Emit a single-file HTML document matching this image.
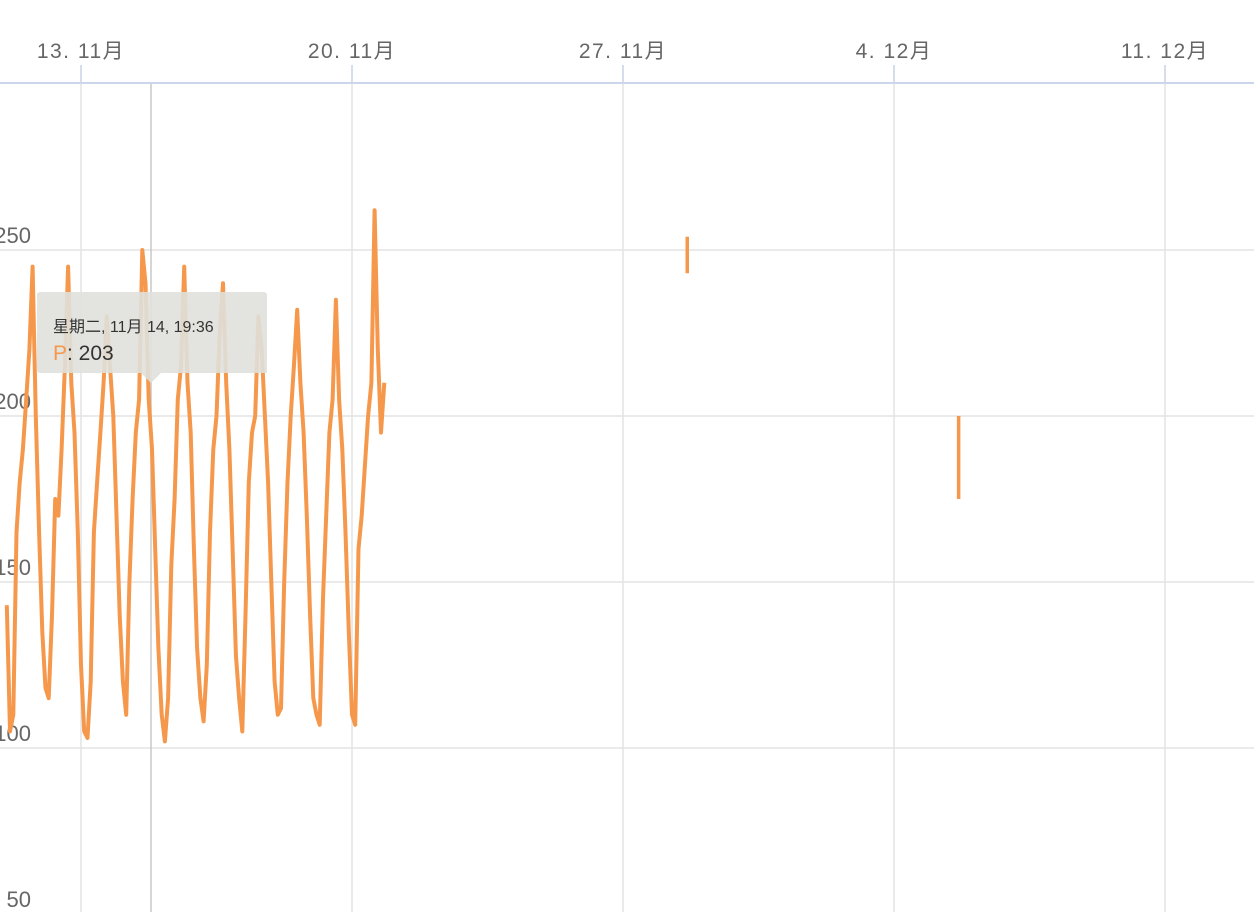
<!DOCTYPE html>
<html><head><meta charset="utf-8"><style>
html,body{margin:0;padding:0;background:#fff;width:1254px;height:912px;overflow:hidden}
svg text{font-family:"Liberation Sans","Noto Sans CJK SC",sans-serif}
</style></head><body>
<svg id="chart" width="1254" height="912" xmlns="http://www.w3.org/2000/svg">
<g id="grid"></g><g id="axes"></g><g id="series"></g><g id="tip"></g>
</svg>
<script>
const xTickLabels=["13. 11月","20. 11月","27. 11月","4. 12月","11. 12月"];
const xTickDays=[13,20,27,34,41];
const yTicks=[250,200,150,100,50];
const yTickLabels=["250","200","150","100","50"];
// values every 2h starting 11.11 02:00
const day11=[143,105,110,165,180,190,205,220,245,200,165,135];
const day12=[118,115,140,175,170,190,215,245,210,195,165,125];
const day13=[105,103,120,165,180,195,210,230,215,200,170,140];
const day14=[120,110,150,175,195,205,250,240,205,190,160,130];
const day15=[110,102,115,155,175,205,215,245,210,195,160,130];
const day16=[115,108,125,165,190,200,225,240,210,190,160,128];
const day17=[115,105,140,180,195,200,230,220,200,180,150,120];
const day18=[110,112,150,180,200,215,232,210,195,170,140,115];
const day19=[110,107,145,170,195,205,235,205,190,165,135,110];
const day20=[107,160,170,185,200,210,262,220,195,210];
const seg1Day=[28.66,28.66]; const seg1Val=[254,243];
const seg2Day=[35.67,35.67]; const seg2Val=[200,175];
const NS="http://www.w3.org/2000/svg";
function X(d){return 81+(d-13)*38.714;}
function Y(v){return 748-(v-100)*3.32;}
function mk(t,a,p){const e=document.createElementNS(NS,t);for(const k in a)e.setAttribute(k,a[k]);p.appendChild(e);return e;}
const grid=document.getElementById('grid'),axes=document.getElementById('axes'),ser=document.getElementById('series'),tip=document.getElementById('tip');
yTicks.forEach((v,i)=>{
 const l=mk('line',{x1:0,x2:1254,y1:Y(v),y2:Y(v),stroke:'#e3e3e3','stroke-width':1.5},grid);
 
 
 const t=mk('text',{x:31,y:Y(v)-7,'text-anchor':'end','font-size':22,fill:'#666'},axes);
 t.textContent=yTickLabels[i];
 
 
});
xTickDays.forEach((d,i)=>{
 const l=mk('line',{x1:X(d),x2:X(d),y1:65,y2:912,stroke:'#e3e3e3','stroke-width':1.5},grid);
 
 
 const tk=mk('line',{x1:X(d),x2:X(d),y1:65,y2:83,stroke:'#ccd6eb','stroke-width':1.5},axes);
 
 
 const t=mk('text',{x:X(d),y:58,'text-anchor':'middle','font-size':21,fill:'#666','letter-spacing':'1.5'},axes);
 t.textContent=xTickLabels[i];
 
 
});
const ax=mk('line',{x1:0,x2:1254,y1:83,y2:83,stroke:'#ccd6eb','stroke-width':2},axes);


const ch=mk('line',{x1:151,x2:151,y1:83,y2:912,stroke:'#c8c8c8','stroke-width':1.5},grid);


const vals=[].concat(day11,day12,day13,day14,day15,day16,day17,day18,day19,day20);
let d='';vals.forEach((v,i)=>{d+=(i?'L':'M')+X(11+(i+1)/12).toFixed(1)+','+Y(v).toFixed(1);});
const p=mk('path',{d:d,fill:'none',stroke:'#f5984c','stroke-width':4,'stroke-linejoin':'round'},ser);


[[seg1Day,seg1Val],[seg2Day,seg2Val]].forEach(([ds,vs])=>{
 const s=mk('line',{x1:X(ds[0]),x2:X(ds[1]),y1:Y(vs[0]),y2:Y(vs[1]),stroke:'#f5984c','stroke-width':3.5},ser);
 
 
});
const bg=mk('path',{d:'M37,295a3,3 0 0 1 3,-3H264a3,3 0 0 1 3,3V373H161L151,383L141,373H40a3,3 0 0 1 -3,-3Z',fill:'rgba(224,224,219,0.9)'},tip);


const t1=mk('text',{x:53,y:332,'font-size':16,fill:'#333'},tip);
t1.textContent='星期二, 11月 14, 19:36';


const t2=mk('text',{x:53,y:360,'font-size':21,fill:'#333'},tip);
t2.innerHTML='<tspan fill="#f5984c">P</tspan>: 203';


</script>
</body></html>
